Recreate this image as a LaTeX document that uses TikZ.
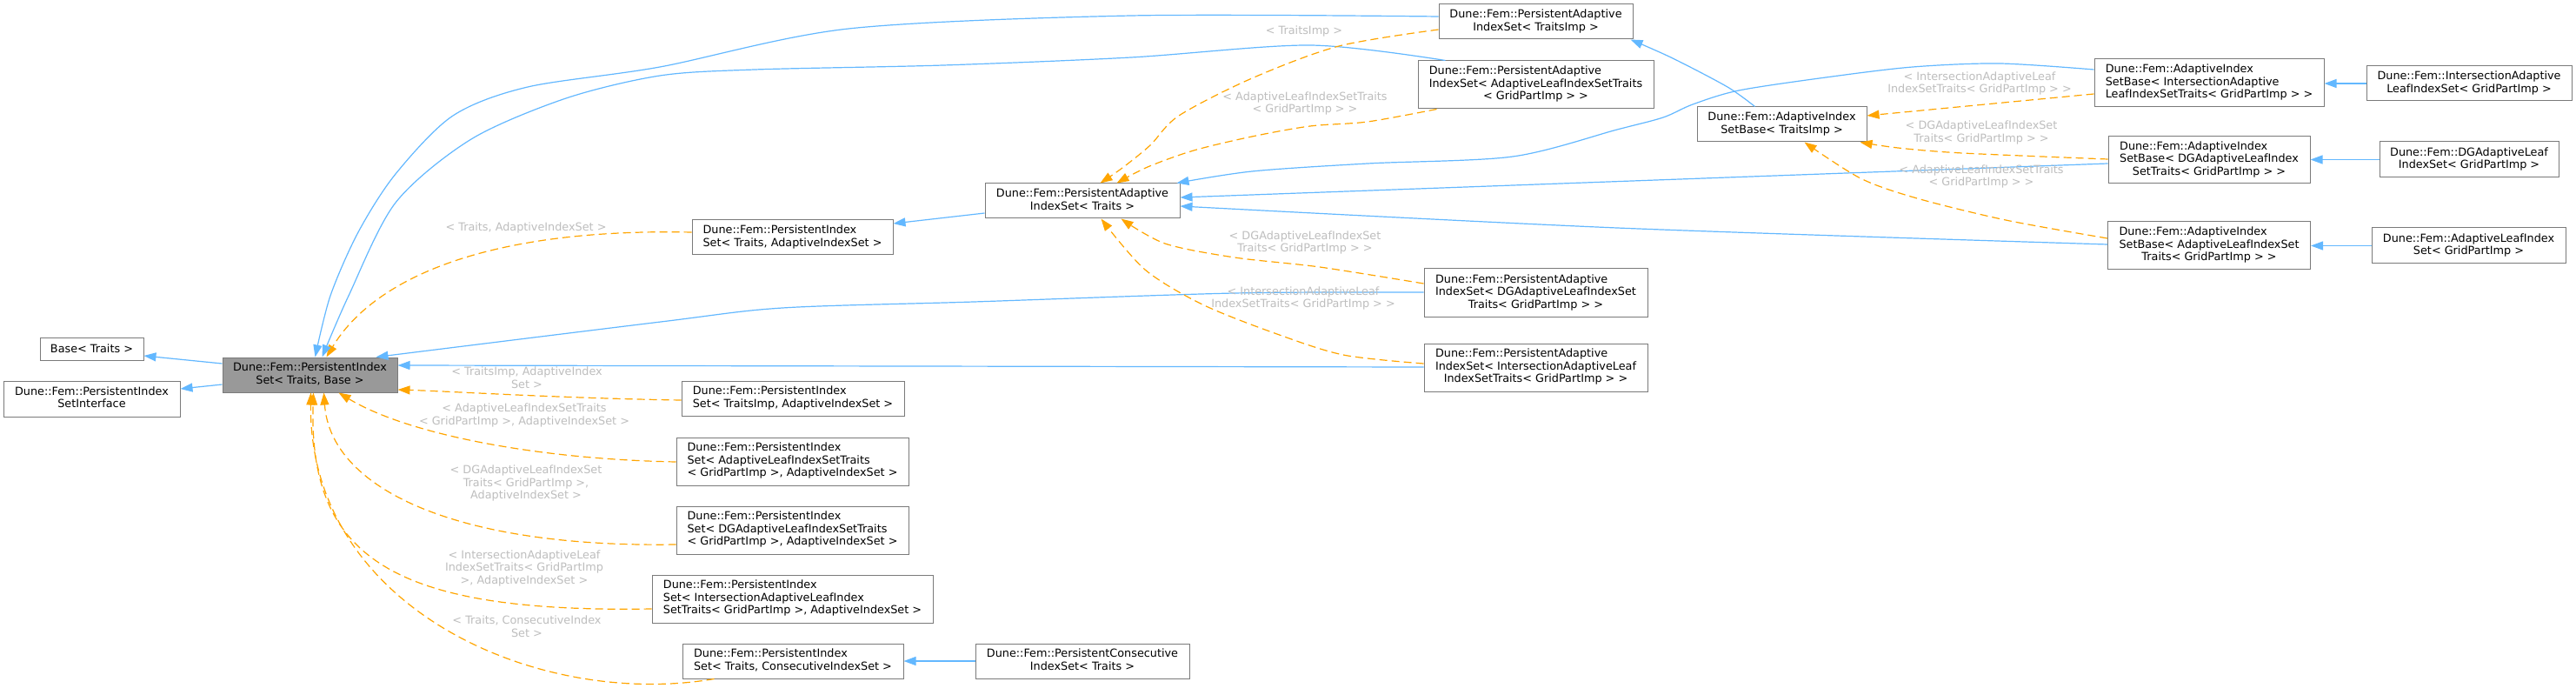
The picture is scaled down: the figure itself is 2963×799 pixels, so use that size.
\documentclass[tikz,border=0pt]{standalone}
\usepackage{fontspec}
\setmainfont{DejaVu Sans}
\usetikzlibrary{arrows.meta,calc}
\definecolor{pubc}{HTML}{63B8FF}
\definecolor{tmplc}{HTML}{FFA500}
\definecolor{lblc}{HTML}{BEBEBE}
\definecolor{bordc}{HTML}{7A7A7A}
\definecolor{mainc}{HTML}{999999}
\newcommand{\nbox}[2]{\begin{tabular}{@{}l@{}}#1\\\multicolumn{1}{@{}c@{}}{#2}\end{tabular}}
\newcommand{\dfont}{\fontsize{12.8pt}{14.5pt}\selectfont}
\begin{document}
\begin{tikzpicture}[x=1pt,y=-1pt,
  cls/.style={draw=bordc, fill=white, line width=1pt, inner sep=0pt, font=\dfont, text=black},
  mainnode/.style={cls, fill=mainc},
  pub/.style={draw=pubc, line width=1.2pt, -{Triangle[length=14pt,width=10pt]}},
  tmpl/.style={draw=tmplc, line width=1.2pt, dash pattern=on 9pt off 5pt, -{Triangle[length=14pt,width=10pt]}},
  lbl/.style={font=\dfont, text=lblc, align=center, inner sep=0pt}]
\fill[white] (0,0) rectangle (2963,799);
\useasboundingbox (0,0) rectangle (2963,799);

% nodes
\node[cls, minimum width=119pt, minimum height=26pt] (base) at (105.5,401) {Base< Traits >};
\node[cls, minimum width=203pt, minimum height=41pt] (iface) at (105.5,458.5) {\nbox{Dune::Fem::PersistentIndex}{SetInterface}};
\node[mainnode, minimum width=201pt, minimum height=40pt] (main) at (356.5,431) {\nbox{Dune::Fem::PersistentIndex}{Set< Traits, Base >}};

\node[cls, minimum width=231pt, minimum height=40pt] (pisAIS) at (911.5,273) {\nbox{Dune::Fem::PersistentIndex}{Set< Traits, AdaptiveIndexSet >}};
\node[cls, minimum width=256pt, minimum height=40pt] (pisTI) at (912,458) {\nbox{Dune::Fem::PersistentIndex}{Set< TraitsImp, AdaptiveIndexSet >}};
\node[cls, minimum width=267pt, minimum height=55pt] (pisAL) at (911.5,530.5) {\nbox{Dune::Fem::PersistentIndex\\Set< AdaptiveLeafIndexSetTraits}{< GridPartImp >, AdaptiveIndexSet >}};
\node[cls, minimum width=267pt, minimum height=55pt] (pisDG) at (911.5,609.5) {\nbox{Dune::Fem::PersistentIndex\\Set< DGAdaptiveLeafIndexSetTraits}{< GridPartImp >, AdaptiveIndexSet >}};
\node[cls, minimum width=323pt, minimum height=55pt] (pisIN) at (911.5,688.5) {\nbox{Dune::Fem::PersistentIndex\\Set< IntersectionAdaptiveLeafIndex}{SetTraits< GridPartImp >, AdaptiveIndexSet >}};
\node[cls, minimum width=254pt, minimum height=40pt] (pisCO) at (912,760) {\nbox{Dune::Fem::PersistentIndex}{Set< Traits, ConsecutiveIndexSet >}};
\node[cls, minimum width=246pt, minimum height=40pt] (pcis) at (1245,760) {\nbox{Dune::Fem::PersistentConsecutive}{IndexSet< Traits >}};

\node[cls, minimum width=224pt, minimum height=40pt] (pais) at (1245,231) {\nbox{Dune::Fem::PersistentAdaptive}{IndexSet< Traits >}};
\node[cls, minimum width=223pt, minimum height=40pt] (paisTI) at (1766.5,25) {\nbox{Dune::Fem::PersistentAdaptive}{IndexSet< TraitsImp >}};
\node[cls, minimum width=271pt, minimum height=55pt] (paisAL) at (1766.5,97.5) {\nbox{Dune::Fem::PersistentAdaptive\\IndexSet< AdaptiveLeafIndexSetTraits}{< GridPartImp > >}};
\node[cls, minimum width=257pt, minimum height=56pt] (paisDG) at (1766.5,337) {\nbox{Dune::Fem::PersistentAdaptive\\IndexSet< DGAdaptiveLeafIndexSet}{Traits< GridPartImp > >}};
\node[cls, minimum width=257pt, minimum height=55pt] (paisIN) at (1766.5,422.5) {\nbox{Dune::Fem::PersistentAdaptive\\IndexSet< IntersectionAdaptiveLeaf}{IndexSetTraits< GridPartImp > >}};

\node[cls, minimum width=195pt, minimum height=40pt] (aisb) at (2049.5,143) {\nbox{Dune::Fem::AdaptiveIndex}{SetBase< TraitsImp >}};
\node[cls, minimum width=264pt, minimum height=55pt] (aisbIN) at (2541,95.5) {\nbox{Dune::Fem::AdaptiveIndex\\SetBase< IntersectionAdaptive}{LeafIndexSetTraits< GridPartImp > >}};
\node[cls, minimum width=232pt, minimum height=54pt] (aisbDG) at (2541,184) {\nbox{Dune::Fem::AdaptiveIndex\\SetBase< DGAdaptiveLeafIndex}{SetTraits< GridPartImp > >}};
\node[cls, minimum width=233pt, minimum height=55pt] (aisbAL) at (2541,282.5) {\nbox{Dune::Fem::AdaptiveIndex\\SetBase< AdaptiveLeafIndexSet}{Traits< GridPartImp > >}};

\node[cls, minimum width=236pt, minimum height=40pt] (ialis) at (2840,96) {\nbox{Dune::Fem::IntersectionAdaptive}{LeafIndexSet< GridPartImp >}};
\node[cls, minimum width=206pt, minimum height=41pt] (dgalis) at (2840,183.5) {\nbox{Dune::Fem::DGAdaptiveLeaf}{IndexSet< GridPartImp >}};
\node[cls, minimum width=223pt, minimum height=41pt] (alis) at (2839.5,282.5) {\nbox{Dune::Fem::AdaptiveLeafIndex}{Set< GridPartImp >}};

% connectors: main -> bases
\draw[pub] ($(main.west)+(0,-13)$) -- ($(base.east)+(0,8)$);
\draw[pub] ($(main.west)+(0,11)$) -- ($(iface.east)+(0,-11.5)$);

% template instances of main
\draw[tmpl] ($(pisAIS.west)+(0,-6)$) .. controls (560,262) and (430,320) .. ($(main.north west)+(120,0)$);
\draw[tmpl] ($(pisTI.west)+(0,2)$) .. controls (650,458) and (520,450) .. ($(main.east)+(0,17)$);
\draw[tmpl] ($(pisAL.west)+(0,0.5)$) .. controls (620,528) and (470,500) .. ($(main.south west)+(134,0)$);
\draw[tmpl] ($(pisDG.west)+(0,16.5)$) .. controls (520,630) and (380,560) .. ($(main.south west)+(117,0)$);
\draw[tmpl] ($(pisIN.west)+(0,11.5)$) .. controls (450,705) and (355,640) .. ($(main.south west)+(105,0)$);
\draw[tmpl] ($(pisCO.south west)+(37,0)$) .. controls (620,815) and (355,700) .. ($(main.south west)+(102,0)$);

% public derivations of main
\coordinate (e9a) at ($(paisTI.west)+(0,-6)$);
\coordinate (e9b) at ($(main.north west)+(107,0)$);
\draw[pub] plot[smooth] coordinates {(e9a) (1301,18) (976,33) (759,77) (607,100) (521,133) (455,200) (412,267) (380,340) (e9b)};
\coordinate (e10a) at ($(paisAL.north west)+(32,0)$);
\coordinate (e10b) at ($(main.north west)+(115,0)$);
\draw[pub] plot[smooth] coordinates {(e10a) (1507,52) (1301,66) (1085,75) (868,80) (759,87) (651,113) (542,160) (455,233) (401,340) (e10b)};
\coordinate (e11a) at ($(paisDG.west)+(0,-1)$);
\coordinate (e11b) at ($(main.north west)+(177,0)$);
\draw[pub] plot[smooth] coordinates {(e11a) (1420,337) (1120,347) (900,354) (760,370) (e11b)};
\draw[pub] ($(paisIN.west)+(0,-0.5)$) -- ($(main.east)+(0,-11)$);

% pais
\draw[pub] ($(pais.west)+(0,14)$) -- ($(pisAIS.east)+(0,-16)$);
\coordinate (e14a) at ($(paisTI.west)+(0,9)$);
\coordinate (e14b) at ($(pais.north west)+(133,0)$);
\draw[tmpl] plot[smooth] coordinates {(e14a) (1540,53) (1440,90) (1356,133) (1323,167) (1291,193) (e14b)};
\coordinate (e15a) at ($(paisAL.south west)+(22,0)$);
\coordinate (e15b) at ($(pais.north west)+(152,0)$);
\draw[tmpl] plot[smooth] coordinates {(e15a) (1573,140) (1507,145) (1440,157) (1373,173) (1320,192) (e15b)};
\coordinate (e16a) at ($(paisDG.west)+(0,-11)$);
\coordinate (e16b) at ($(pais.south west)+(157,0)$);
\draw[tmpl] plot[smooth] coordinates {(e16a) (1518,307) (1420,296) (1340,280) (e16b)};
\coordinate (e17a) at ($(paisIN.west)+(0,-4.5)$);
\coordinate (e17b) at ($(pais.south west)+(134,0)$);
\draw[tmpl] plot[smooth] coordinates {(e17a) (1545,408) (1466,383) (1383,350) (1317,310) (e17b)};

\coordinate (e18a) at ($(aisbIN.west)+(0,-15.5)$);
\coordinate (e18b) at ($(pais.north east)+(-4,0)$);
\draw[pub] plot[smooth] coordinates {(e18a) (2300,73) (2200,77) (2100,89) (2000,104) (1947,120) (1913,135) (1860,149) (1740,180) (1573,188) (1440,197) (e18b)};
\draw[pub] ($(aisbDG.west)+(0,4)$) -- ($(pais.east)+(0,-4)$);
\coordinate (e20a) at ($(aisbAL.west)+(0,-1.5)$);
\coordinate (e20b) at ($(pais.east)+(0,6)$);
\draw[pub] plot[smooth] coordinates {(e20a) (1860,262) (e20b)};

% aisb
\coordinate (e21a) at ($(aisb.north west)+(67,0)$);
\coordinate (e21b) at ($(paisTI.south east)+(-3,0)$);
\draw[pub] plot[smooth] coordinates {(e21a) (1987,100) (1924,67) (e21b)};
\draw[tmpl] ($(aisbIN.west)+(0,12.5)$) -- ($(aisb.east)+(0,-10)$);
\coordinate (e23a) at ($(aisbDG.west)+(0,-1)$);
\coordinate (e23b) at ($(aisb.south east)+(-8,0)$);
\draw[tmpl] plot[smooth] coordinates {(e23a) (2257,176) (2183,170) (e23b)};
\coordinate (e24a) at ($(aisbAL.west)+(0,-8.5)$);
\coordinate (e24b) at ($(aisb.south west)+(124,0)$);
\draw[tmpl] plot[smooth] coordinates {(e24a) (2307,253) (2205,228) (2140,205) (e24b)};

% leaves
\draw[pub] (ialis.west) -- (aisbIN.east |- ialis.west);
\draw[pub] (dgalis.west) -- (aisbDG.east |- dgalis.west);
\draw[pub] (alis.west) -- (aisbAL.east |- alis.west);
\draw[pub] (pcis.west) -- (pisCO.east |- pcis.west);

% labels
\node[lbl] (l3) at (605,262) {< Traits, AdaptiveIndexSet >};
\node[lbl] (l4) at (606,434) {< TraitsImp, AdaptiveIndex\\Set >};
\node[lbl] (l5) at (603,477.5) {< AdaptiveLeafIndexSetTraits\\< GridPartImp >, AdaptiveIndexSet >};
\node[lbl] (l6) at (605,555.5) {< DGAdaptiveLeafIndexSet\\Traits< GridPartImp >,\hspace*{40pt}\\AdaptiveIndexSet >};
\node[lbl] (l7) at (603,653) {< IntersectionAdaptiveLeaf\\IndexSetTraits< GridPartImp\\>, AdaptiveIndexSet >};
\node[lbl] (l8) at (606,720) {< Traits, ConsecutiveIndex\\Set >};
\node[lbl] (l14) at (1500,36) {< TraitsImp >};
\node[lbl] (l15) at (1501,119) {< AdaptiveLeafIndexSetTraits\\< GridPartImp > >};
\node[lbl] (l16) at (1501,279) {< DGAdaptiveLeafIndexSet\\Traits< GridPartImp > >};
\node[lbl] (l17) at (1499,343) {< IntersectionAdaptiveLeaf\\IndexSetTraits< GridPartImp > >};
\node[lbl] (l22) at (2277,96) {< IntersectionAdaptiveLeaf\\IndexSetTraits< GridPartImp > >};
\node[lbl] (l23) at (2279,152.5) {< DGAdaptiveLeafIndexSet\\Traits< GridPartImp > >};
\node[lbl] (l24) at (2279,203) {< AdaptiveLeafIndexSetTraits\\< GridPartImp > >};
\end{tikzpicture}
\end{document}
